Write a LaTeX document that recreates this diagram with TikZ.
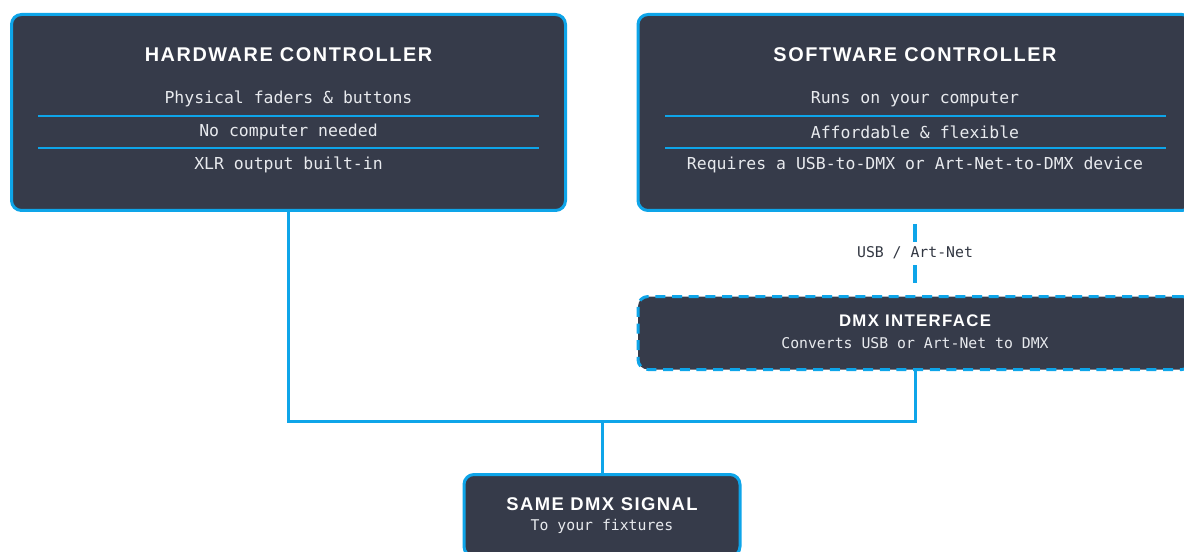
\documentclass[tikz,border=0pt]{standalone}
\usepackage{fontspec}
\usepackage{xcolor}
\setmonofont{DejaVu Sans Mono}
\newfontfamily\headfont{Liberation Sans}[LetterSpace=8]
\usetikzlibrary{positioning}

\definecolor{panel}{RGB}{54,59,74}
\definecolor{wire}{RGB}{14,165,233}
\definecolor{paneltext}{RGB}{232,234,238}
\definecolor{labeltext}{RGB}{50,55,66}

\begin{document}
\begin{tikzpicture}[
            x=0.75pt, y=-0.75pt,
            panelbox/.style={draw=wire, fill=panel, line width=2.25pt, rounded corners=7.5pt, inner sep=0pt},
            ctrlbox/.style={panelbox, minimum width=415.5pt, minimum height=147pt},
            ifacebox/.style={panelbox, dash pattern=on 7.5pt off 5pt, minimum width=415.5pt, minimum height=54.75pt},
            signalbox/.style={panelbox, minimum width=207pt, minimum height=61.5pt},
            bigtitle/.style={text=white, font=\headfont\bfseries\fontsize{14.9}{16}\selectfont, inner sep=0pt},
            midtitle/.style={text=white, font=\headfont\bfseries\fontsize{13.8}{15}\selectfont, inner sep=0pt},
            smalltitle/.style={text=white, font=\headfont\bfseries\fontsize{12.6}{14}\selectfont, inner sep=0pt},
            rowtext/.style={text=paneltext, font=\ttfamily\fontsize{12.35}{14}\selectfont, inner sep=0pt},
            subtext/.style={text=paneltext, font=\ttfamily\fontsize{11.1}{13}\selectfont, inner sep=0pt},
            rowsep/.style={draw=wire, line width=1.1pt},
            link/.style={draw=wire, line width=2.25pt},
            usblink/.style={draw=wire, line width=3pt, dash pattern=on 13.5pt off 17.25pt, dash phase=21.75pt},
            linklabel/.style={text=labeltext, font=\ttfamily\fontsize{11.1}{13}\selectfont, inner sep=0pt}
        ]
            \useasboundingbox (0,0) rectangle (1184,552);
            \clip (0,0) rectangle (1184,552);

            % Hardware controller
            \node[ctrlbox] (hw) at (288.5,112.5) {};
            \node[bigtitle] (hwtitle) at (288.5,55) {HARDWARE CONTROLLER};
            \node[rowtext] (hwrowa) at (288.5,99) {Physical faders \& buttons};
            \node[rowtext] (hwrowb) at (288.5,132) {No computer needed};
            \node[rowtext] (hwrowc) at (288.5,165) {XLR output built-in};
            \draw[rowsep] (38,116) -- (539,116);
            \draw[rowsep] (38,148) -- (539,148);

            % Software controller
            \node[ctrlbox] (sw) at (915,112.5) {};
            \node[bigtitle] (swtitle) at (915,55) {SOFTWARE CONTROLLER};
            \node[rowtext] (swrowa) at (915,99) {Runs on your computer};
            \node[rowtext] (swrowb) at (915,132) {Affordable \& flexible};
            \node[rowtext] (swrowc) at (915,165) {Requires a USB-to-DMX or Art-Net-to-DMX device};
            \draw[rowsep] (665,116) -- (1166,116);
            \draw[rowsep] (665,148) -- (1166,148);

            % DMX interface
            \node[ifacebox] (iface) at (915,333) {};
            \node[smalltitle] (ifacetitle) at (915,321) {DMX INTERFACE};
            \node[subtext] (ifacesub) at (915,343.5) {Converts USB or Art-Net to DMX};

            % Output
            \node[signalbox] (sig) at (602,515.5) {};
            \node[midtitle] (sigtitle) at (602,504) {SAME DMX SIGNAL};
            \node[subtext] (sigsub) at (602,526.5) {To your fixtures};

            % Wires
            \coordinate (join) at (602,421);
            \draw[usblink] (sw.south) -- (iface.north);
            \node[linklabel] (usblabel) at (915,252.5) {USB / Art-Net};
            \draw[link] (hw.south) |- (join) -| (iface.south);
            \draw[link] (join) -- (sig.north);
        \end{tikzpicture}
\end{document}
